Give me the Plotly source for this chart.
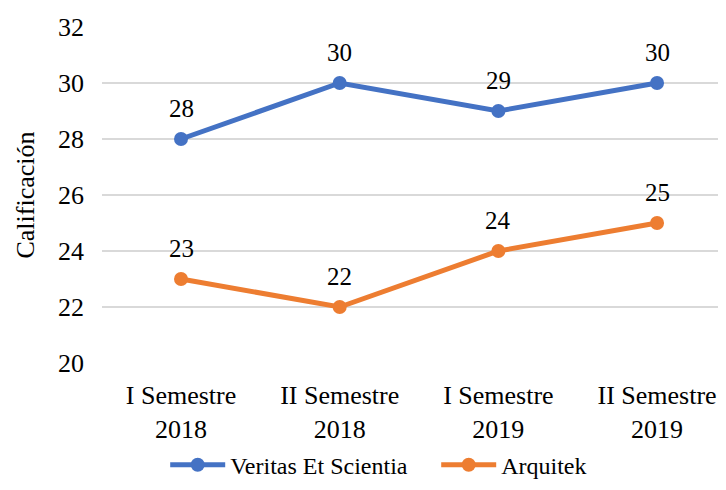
import plotly.graph_objects as go

categories = ["I Semestre<br>2018", "II Semestre<br>2018", "I Semestre<br>2019", "II Semestre<br>2019"]
veritas = [28, 30, 29, 30]
arquitek = [23, 22, 24, 25]
y_ticks = [20, 22, 24, 26, 28, 30, 32]

FONT = "Times New Roman"
series = [("Veritas Et Scientia", veritas, "#4472C4"), ("Arquitek", arquitek, "#ED7D31")]

fig = go.Figure()
for name, vals, color in series:
    fig.add_trace(go.Scatter(
        x=list(range(len(categories))), y=vals, name=name,
        mode="lines+markers",
        line=dict(color=color, width=5), marker=dict(color=color, size=14),
        cliponaxis=False,
    ))
    for i, v in enumerate(vals):
        fig.add_annotation(x=i, y=v, text=str(v), showarrow=False, yshift=31,
                           font=dict(family=FONT, size=25, color="#000000"))

fig.update_layout(
    width=726, height=490,
    margin=dict(l=94, r=0, t=19, b=135, autoexpand=False),
    plot_bgcolor="white", paper_bgcolor="white",
    font=dict(family=FONT, size=26, color="#000000"),
    showlegend=True,
    legend=dict(orientation="h", x=0.1, xanchor="left", y=-0.304, yanchor="middle",
                font=dict(family=FONT, size=24), traceorder="normal",
                itemwidth=55, entrywidth=201, entrywidthmode="pixels"),
    xaxis=dict(
        tickmode="array", tickvals=list(range(len(categories))), ticktext=categories,
        range=[-0.498, 3.485], showgrid=False, zeroline=False, showline=False,
        ticks="", tickfont=dict(family=FONT, size=26), automargin=False,
        ticklabelstandoff=14,
    ),
    yaxis=dict(
        range=[20, 32], tickvals=y_ticks, showgrid=True, gridcolor="#D9D9D9", gridwidth=1.5,
        zeroline=False, showline=False, ticks="", ticklabelstandoff=17,
        tickfont=dict(family=FONT, size=26), automargin=False,
        title=dict(text="Calificación", font=dict(family=FONT, size=26), standoff=15),
    ),
)

fig.write_html("out.html")
